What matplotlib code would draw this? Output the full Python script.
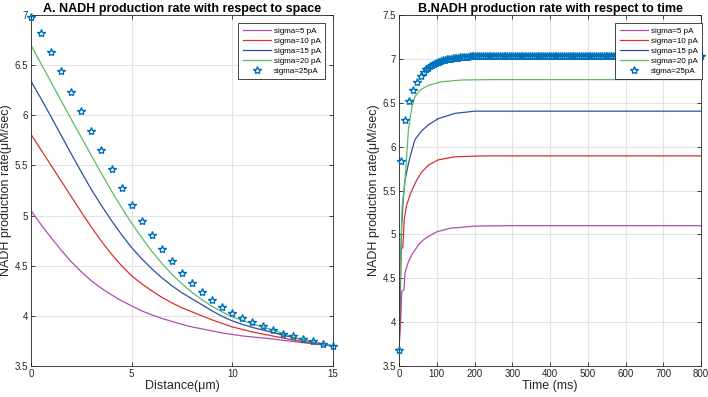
import numpy as np
import matplotlib
matplotlib.use('Agg')
import matplotlib.pyplot as plt
from matplotlib.ticker import FuncFormatter

plt.rcParams['font.family'] = ['Liberation Sans', 'DejaVu Sans']

labels = ['sigma=5 pA', 'sigma=10 pA', 'sigma=15 pA', 'sigma=20 pA', 'sigma=25pA']
colors = ['#B04CB0', '#D93030', '#2E4F9E', '#5DBB63', '#0072BD']

# ---- Panel A: distance (um)
dist = [0, 0.5, 1, 1.5, 2, 2.5, 3, 3.5, 4, 4.5, 5, 5.5, 6, 6.5, 7, 7.5, 8, 8.5,
        9, 9.5, 10, 10.5, 11, 11.5, 12, 12.5, 13, 13.5, 14, 14.5, 15]
space_s5 = [5.05, 4.91, 4.78, 4.655, 4.54, 4.44, 4.35, 4.275, 4.21, 4.15, 4.10, 4.05,
            4.01, 3.975, 3.945, 3.915, 3.89, 3.87, 3.85, 3.83, 3.815, 3.80, 3.79, 3.78,
            3.77, 3.757, 3.745, 3.733, 3.72, 3.71, 3.70]
space_s10 = [5.81, 5.655, 5.50, 5.345, 5.19, 5.035, 4.885, 4.745, 4.615, 4.50, 4.40, 4.32,
             4.25, 4.185, 4.13, 4.08, 4.04, 4.00, 3.96, 3.925, 3.89, 3.865, 3.84, 3.82,
             3.80, 3.78, 3.76, 3.745, 3.73, 3.715, 3.70]
space_s15 = [6.34, 6.165, 5.985, 5.80, 5.615, 5.435, 5.26, 5.10, 4.95, 4.81, 4.68, 4.57,
             4.47, 4.38, 4.30, 4.23, 4.17, 4.11, 4.05, 3.995, 3.95, 3.915, 3.885, 3.86,
             3.835, 3.81, 3.785, 3.76, 3.74, 3.72, 3.70]
space_s20 = [6.70, 6.515, 6.33, 6.145, 5.96, 5.78, 5.60, 5.42, 5.245, 5.08, 4.925, 4.78,
             4.645, 4.525, 4.415, 4.32, 4.235, 4.16, 4.095, 4.04, 3.99, 3.955, 3.92, 3.89,
             3.86, 3.825, 3.79, 3.765, 3.74, 3.72, 3.70]
space_s25 = [6.98, 6.82, 6.63, 6.44, 6.23, 6.04, 5.84, 5.65, 5.47, 5.28, 5.11, 4.95,
             4.81, 4.67, 4.545, 4.43, 4.33, 4.24, 4.16, 4.09, 4.03, 3.98, 3.935, 3.895,
             3.86, 3.82, 3.795, 3.77, 3.745, 3.72, 3.695]

# ---- Panel B: time (ms)
t_s5 = [0, 5, 7, 13, 16, 25, 34, 42, 51, 65, 75, 100, 135, 200, 300, 800]
time_s5 = [3.70, 4.08, 4.35, 4.37, 4.57, 4.69, 4.77, 4.82, 4.88, 4.94, 4.97, 5.03, 5.07, 5.095, 5.10, 5.10]
t_s10 = [0, 3, 5, 10, 14, 20, 29, 38, 47, 60, 78, 104, 148, 220, 800]
time_s10 = [3.70, 4.06, 4.83, 4.85, 5.18, 5.33, 5.45, 5.54, 5.62, 5.71, 5.79, 5.85, 5.885, 5.895, 5.895]
t_s15 = [0, 4, 7, 11, 16, 25, 34, 42, 60, 78, 104, 148, 201, 800]
time_s15 = [3.70, 4.60, 5.10, 5.39, 5.62, 5.81, 5.96, 6.08, 6.18, 6.25, 6.32, 6.38, 6.405, 6.405]
t_s20 = [0, 3, 8, 16, 20, 25, 34, 42, 56, 78, 113, 166, 250, 800]
time_s20 = [3.70, 4.50, 5.30, 5.62, 5.88, 6.20, 6.45, 6.57, 6.645, 6.70, 6.74, 6.76, 6.765, 6.765]
t_s25 = [0, 4.5, 16, 27, 36, 47, 57, 67, 72, 77, 82, 87, 92, 97, 102, 107, 112, 117,
         122, 127, 132, 137, 142, 147, 152, 157, 162, 167, 172, 177, 182, 187, 192] \
        + list(range(197, 800, 5)) + [800]
time_s25 = [3.68, 5.84, 6.30, 6.52, 6.65, 6.74, 6.81, 6.855, 6.88, 6.90, 6.915, 6.93,
            6.945, 6.955, 6.962, 6.97, 6.978, 6.985, 6.99, 6.995, 7.0, 7.005, 7.008,
            7.01, 7.012, 7.015, 7.018, 7.02, 7.022, 7.025, 7.027, 7.028, 7.029] \
           + [7.03] * (len(range(197, 800, 5)) + 1)

fig = plt.figure(figsize=(7.08, 3.97), dpi=100)
axA = fig.add_axes([0.0438, 0.078, 0.4265, 0.884])
axB = fig.add_axes([0.5636, 0.078, 0.4266, 0.884])

fmt = FuncFormatter(lambda v, p: '%g' % v)
text_col = '#262626'

def style(ax):
    ax.grid(True, color='#e3e3e3', linewidth=0.8)
    ax.set_axisbelow(True)
    ax.tick_params(direction='in', top=True, right=True, labelsize=7, length=3,
                   width=0.6, colors=text_col, pad=2)
    for s in ax.spines.values():
        s.set_linewidth(0.6)
        s.set_color(text_col)
    ax.xaxis.set_major_formatter(fmt)
    ax.yaxis.set_major_formatter(fmt)

def legend(ax, anchor):
    leg = ax.legend(loc='upper right', bbox_to_anchor=anchor, borderaxespad=0,
                    fontsize=5.8, frameon=True, fancybox=False, edgecolor='#262626',
                    framealpha=1, handlelength=3.5, handletextpad=0.4, borderpad=0.5,
                    labelspacing=0.3)
    leg.get_frame().set_linewidth(0.6)
    leg.set_zorder(10)
    return leg

# Panel A
for y, c, lab in zip([space_s5, space_s10, space_s15, space_s20], colors[:4], labels[:4]):
    axA.plot(dist, y, color=c, lw=0.9, label=lab)
axA.plot(dist, space_s25, linestyle='none', marker='*', markersize=6,
         markerfacecolor='none', markeredgecolor=colors[4], markeredgewidth=1.0,
         label=labels[4], clip_on=False, zorder=5)
axA.set_xlim(0, 15)
axA.set_ylim(3.5, 7)
axA.set_xticks([0, 5, 10, 15])
axA.set_yticks(np.arange(3.5, 7.01, 0.5))
style(axA)
axA.set_title('A. NADH production rate with respect to space', fontsize=9,
              fontweight='bold', pad=2, color='black')
axA.set_xlabel('Distance(μm)', fontsize=9, color=text_col, labelpad=1)
axA.set_ylabel('NADH production rate(μM/sec)', fontsize=9, color=text_col, labelpad=2)
legend(axA, (0.9735, 0.977))

# Panel B
for t, y, c, lab in zip([t_s5, t_s10, t_s15, t_s20], [time_s5, time_s10, time_s15, time_s20],
                        colors[:4], labels[:4]):
    axB.plot(t, y, color=c, lw=0.9, label=lab)
axB.plot(t_s25, time_s25, linestyle='none', marker='*', markersize=6,
         markerfacecolor='none', markeredgecolor=colors[4], markeredgewidth=1.0,
         label=labels[4], clip_on=False, zorder=5)
axB.set_xlim(0, 800)
axB.set_ylim(3.5, 7.5)
axB.set_xticks(np.arange(0, 801, 100))
axB.set_yticks(np.arange(3.5, 7.51, 0.5))
style(axB)
axB.set_title('B.NADH production rate with respect to time', fontsize=9,
              fontweight='bold', pad=2, color='black')
axB.set_xlabel('Time (ms)', fontsize=9, color=text_col, labelpad=1)
axB.set_ylabel('NADH production rate(μM/sec)', fontsize=9, color=text_col, labelpad=2)
legend(axB, (1.003, 0.977))

fig.savefig('out.png', dpi=100)
